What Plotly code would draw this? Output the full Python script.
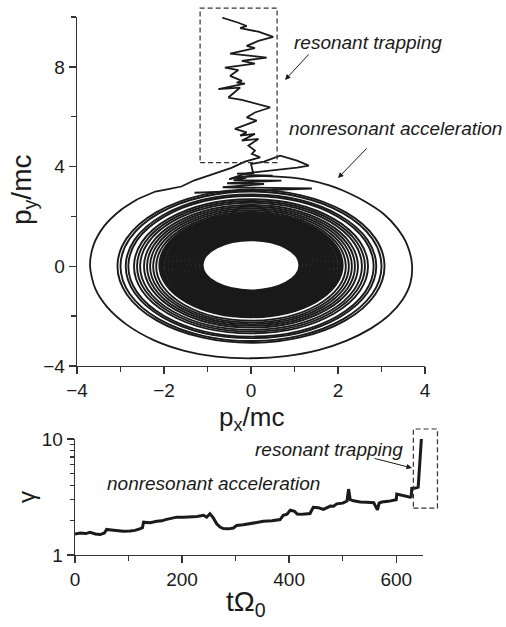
import math
import plotly.graph_objects as go

# ---------------- data ----------------
# gyration rings of the nonresonant phase (radii in p/mc)
dense_rx = [1.12, 1.16, 1.21, 1.25, 1.30, 1.34, 1.39, 1.43, 1.48, 1.52, 1.57, 1.61,
            1.66, 1.70, 1.75, 1.79, 1.84, 1.88, 1.93, 1.97, 2.02, 2.06, 2.10]
dense_ry = [1.02, 1.07, 1.12, 1.17, 1.22, 1.27, 1.32, 1.37, 1.42, 1.47, 1.52, 1.57,
            1.62, 1.67, 1.72, 1.76, 1.81, 1.85, 1.90, 1.94, 1.99, 2.03, 2.07]
dense_cy = 0.04
ring_r = [2.18, 2.25, 2.32, 2.39, 2.46, 2.55, 2.62, 2.69, 2.82, 2.88, 3.00, 3.07]

# chaotic strokes at the top of the rings (incl. the small tongue)
chaos_px = [-1.30, 1.40, -0.65, 0.30, -0.55, 0.70, -0.40, -0.10, -0.38, 0.50, 0.00, -0.32, 0.05,
            0.00, 0.30, 0.67, 1.06, 1.33, 1.06, 0.37, -0.09, -0.50]
chaos_py = [2.95, 3.12, 3.17, 3.30, 3.33, 3.44, 3.45, 3.56, 3.57, 3.64, 3.66, 3.72, 3.74,
            4.10, 4.20, 4.44, 4.24, 4.04, 3.96, 3.84, 3.74, 3.50]

# last (outermost) gyration loop
loop_px = [-0.50, 0.00, 0.60, 1.20, 1.80, 2.10, 2.60, 3.05, 3.35, 3.58, 3.70, 3.66, 3.48, 3.18,
           2.75, 2.20, 1.55, 0.80, 0.00, -0.80, -1.55, -2.25, -2.85, -3.30, -3.58, -3.70, -3.62,
           -3.38, -3.00, -2.60]
loop_py = [3.50, 3.62, 3.60, 3.50, 3.25, 3.05, 2.62, 2.10, 1.55, 0.90, 0.10, -0.70, -1.35, -1.95,
           -2.50, -2.98, -3.36, -3.60, -3.69, -3.62, -3.38, -2.95, -2.35, -1.65, -0.90, 0.00, 0.85,
           1.60, 2.25, 2.70]

# wavy ascent and trapped column
climb_px = [-2.60, -2.20, -1.90, -1.60, -1.30, -1.00, -0.70, -0.45, -0.14, 0.21,
            0.02, 0.09, -0.06, 0.17, -0.21, 0.09, -0.25, -0.10, -0.37, 0.13, -0.10, 0.09, 0.44,
            -0.21, -0.52, -0.25, -0.75, -0.14, -0.33, -0.21, -0.48, -0.29, -0.60, 0.09, -0.21,
            0.36, -0.48, 0.09, -0.10, 0.17, 0.51, 0.17, -0.25, -0.10, -0.29, -0.66]
climb_py = [2.70, 3.00, 3.10, 3.20, 3.45, 3.62, 3.78, 3.95, 4.20, 4.37,
            4.51, 4.64, 4.84, 5.11, 5.04, 5.31, 5.24, 5.37, 5.51, 5.84, 5.97, 6.17, 6.37,
            6.68, 6.77, 7.17, 7.11, 7.33, 7.37, 7.44, 7.64, 7.87, 7.97, 8.13, 8.24,
            8.37, 8.53, 8.75, 8.84, 9.04, 9.20, 9.41, 9.55, 9.64, 9.77, 9.97]

# gamma versus time
t_vals = [0, 10, 20, 28, 38, 47, 55, 59, 68, 78, 90, 103, 112, 121, 126, 128, 140, 153, 162, 171,
          180, 190, 203, 215, 228, 240, 246, 252, 258, 265, 271, 277, 287, 296, 302, 314, 327, 340,
          352, 368, 383, 389, 396, 402, 410, 415, 421, 430, 439, 445, 455, 464, 470, 477, 483, 489,
          500, 508, 511, 514, 520, 533, 545, 558, 562, 565, 568, 573, 585, 595, 600, 601, 612, 626,
          628, 629, 636, 641, 647]
gamma_vals = [1.52, 1.55, 1.53, 1.57, 1.52, 1.50, 1.55, 1.66, 1.64, 1.62, 1.60, 1.61, 1.63, 1.68,
              1.72, 1.92, 1.90, 1.95, 1.97, 2.03, 2.06, 2.12, 2.12, 2.13, 2.15, 2.20, 2.12, 2.27,
              2.10, 1.85, 1.74, 1.69, 1.68, 1.71, 1.80, 1.82, 1.86, 1.90, 1.95, 1.97, 2.02, 2.20,
              2.25, 2.43, 2.38, 2.25, 2.24, 2.26, 2.28, 2.58, 2.55, 2.47, 2.55, 2.64, 2.63, 2.76,
              2.80, 2.92, 3.70, 3.00, 2.93, 2.86, 2.85, 2.82, 2.60, 2.45, 2.80, 2.86, 2.90, 2.95,
              3.00, 3.35, 3.25, 3.15, 3.18, 3.75, 3.78, 3.85, 10.0]

# boxes (data units) marking the resonant trapping
box_top = dict(x=[-1.17, 0.60], y=[4.16, 10.36])
box_bot = dict(x=[632, 677], y=[2.54, 12.2])

# ---------------- layout geometry ----------------
W, H = 506, 627
top_xdom = [77 / W, 425 / W]
top_ydom = [1 - 366 / H, 1 - 17 / H]
bot_xdom = [75 / W, 423 / W]
bot_ydom = [1 - 555 / H, 1 - 439 / H]
top_xr, top_yr = [-4, 4], [-4, 10]
bot_xr, bot_yr = [0, 650], [0, 1]


def to_paper(v, dom, rng, log=False):
    if log:
        v = math.log10(v)
    return dom[0] + (v - rng[0]) / (rng[1] - rng[0]) * (dom[1] - dom[0])


FONT = "Liberation Sans, Arial, sans-serif"
INK = "#1a1a1a"

fig = go.Figure()
fig.add_trace(go.Scatter(x=chaos_px, y=chaos_py, mode="lines", xaxis="x", yaxis="y",
                         line=dict(color=INK, width=1.8), showlegend=False, hoverinfo="skip"))
fig.add_trace(go.Scatter(x=loop_px, y=loop_py, mode="lines", xaxis="x", yaxis="y",
                         line=dict(color=INK, width=1.8, shape="spline", smoothing=0.8),
                         showlegend=False, hoverinfo="skip"))
fig.add_trace(go.Scatter(x=climb_px, y=climb_py, mode="lines", xaxis="x", yaxis="y",
                         line=dict(color=INK, width=1.8), showlegend=False, hoverinfo="skip"))
fig.add_trace(go.Scatter(x=t_vals, y=gamma_vals, mode="lines", xaxis="x2", yaxis="y2",
                         line=dict(color=INK, width=3), showlegend=False, hoverinfo="skip"))

shapes = []
for rx, ry in zip(dense_rx, dense_ry):
    shapes.append(dict(type="circle", xref="x", yref="y", x0=-rx, x1=rx,
                       y0=dense_cy - ry, y1=dense_cy + ry,
                       line=dict(color=INK, width=2.6)))
for r in ring_r:
    shapes.append(dict(type="circle", xref="x", yref="y", x0=-r, x1=r, y0=-r, y1=r,
                       line=dict(color=INK, width=1.9)))

for box, xd, yd, xr, yr, lg in [(box_top, top_xdom, top_ydom, top_xr, top_yr, False),
                                (box_bot, bot_xdom, bot_ydom, bot_xr, bot_yr, True)]:
    shapes.append(dict(type="rect", xref="paper", yref="paper",
                       x0=to_paper(box["x"][0], xd, xr), x1=to_paper(box["x"][1], xd, xr),
                       y0=to_paper(box["y"][0], yd, yr, lg), y1=to_paper(box["y"][1], yd, yr, lg),
                       line=dict(color="#333", width=1.2, dash="5px,3px")))


def px(xp):
    return xp / W


def py(yp):
    return 1 - yp / H


annos = []
txt_font = dict(family=FONT, size=19, color=INK)
for text, x, y in [("<i>resonant trapping</i>", 292, 42),
                   ("<i>nonresonant acceleration</i>", 287, 129),
                   ("<i>resonant trapping</i>", 253, 449),
                   ("<i>nonresonant acceleration</i>", 105, 483)]:
    annos.append(dict(text=text, x=px(x), y=py(y), xref="paper", yref="paper",
                      xanchor="left", yanchor="middle", showarrow=False, font=txt_font))
for hx, hy, tx, ty in [(285, 80, 310, 53), (338, 178, 368, 147), (412, 468, 373, 458)]:
    annos.append(dict(text="", x=px(hx), y=py(hy), xref="paper", yref="paper", showarrow=True,
                      ax=tx - hx, ay=ty - hy, arrowhead=2, arrowsize=1.1, arrowwidth=1,
                      arrowcolor=INK))
for text, x, y, ang, size in [("p<sub>y</sub>/mc", 24, 190, -90, 28),
                              ("p<sub>x</sub>/mc", 251, 418, 0, 26),
                              ("γ", 26, 497, -90, 24),
                              ("tΩ<sub>0</sub>", 246, 603, 0, 28)]:
    annos.append(dict(text=text, x=px(x), y=py(y), xref="paper", yref="paper",
                      xanchor="center", yanchor="middle", textangle=ang, showarrow=False,
                      font=dict(family=FONT, size=size, color=INK)))

tick_font = dict(family=FONT, size=19, color=INK)
axis_common = dict(showline=True, linecolor="#333", linewidth=1.3, ticks="outside",
                   ticklen=7, tickwidth=1.3, tickcolor="#333", showgrid=False, zeroline=False,
                   tickfont=tick_font, fixedrange=True, automargin=False)

fig.update_layout(
    width=W, height=H, autosize=False,
    margin=dict(l=0, r=0, t=0, b=0, pad=0),
    paper_bgcolor="white", plot_bgcolor="white",
    showlegend=False,
    xaxis=dict(domain=top_xdom, range=top_xr, anchor="y", tick0=-4, dtick=2,
               minor=dict(ticks="outside", ticklen=5, tickwidth=1.3, tickcolor="#333", dtick=1),
               **axis_common),
    yaxis=dict(domain=top_ydom, range=top_yr, anchor="x", tick0=-4, dtick=4,
               minor=dict(ticks="outside", ticklen=5, tickwidth=1.3, tickcolor="#333",
                          tick0=-4, dtick=2),
               **axis_common),
    xaxis2=dict(domain=bot_xdom, range=bot_xr, anchor="y2", tick0=0, dtick=200,
                minor=dict(ticks="outside", ticklen=5, tickwidth=1.3, tickcolor="#333", dtick=100),
                **axis_common),
    yaxis2=dict(domain=bot_ydom, range=bot_yr, anchor="x2", type="log", dtick=1,
                minor=dict(ticks="outside", ticklen=4, tickwidth=1.1, tickcolor="#333",
                           dtick="D1"),
                **axis_common),
    shapes=shapes,
    annotations=annos,
)

fig.write_html("out.html", config={"displayModeBar": False, "staticPlot": True},
               post_script="document.body.style.margin='0';document.body.style.padding='0';"
                           "document.documentElement.style.overflow='hidden';")
